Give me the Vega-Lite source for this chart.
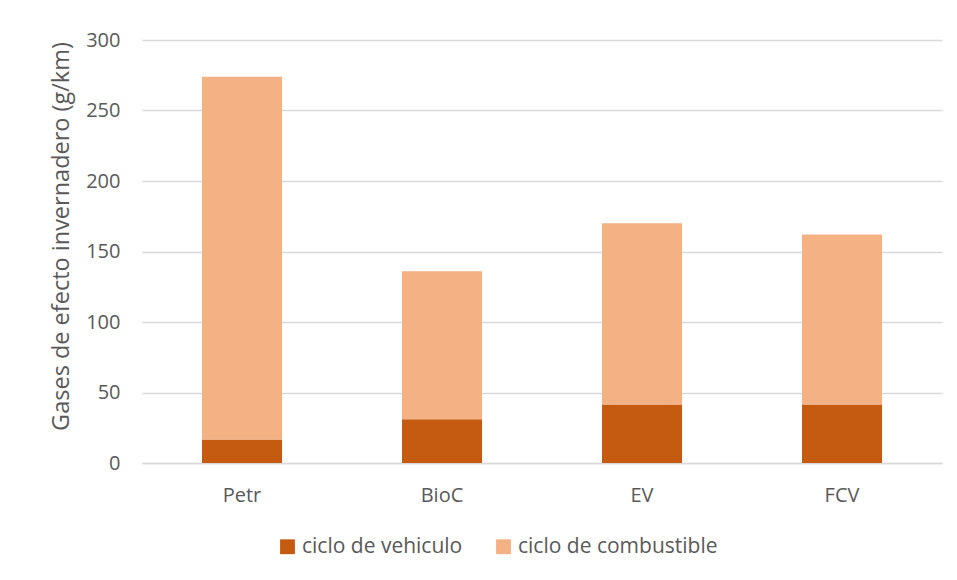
{
  "$schema": "https://vega.github.io/schema/vega-lite/v6.json",
  "width": 800,
  "height": 423,
  "autosize": {"type": "none"},
  "padding": {"left": 142, "top": 40, "right": 15, "bottom": 117},
  "background": "white",
  "config": {
    "view": {"stroke": null},
    "font": "Open Sans",
    "axis": {"labelColor": "#595959", "titleColor": "#595959", "labelFontSize": 20, "titleFontSize": 23.5, "titleFontWeight": "normal"}
  },
  "data": {"values": [
    {"tipo": "Petr", "ciclo": "ciclo de vehiculo", "k": 1, "valor": 16.7},
    {"tipo": "Petr", "ciclo": "ciclo de combustible", "k": 2, "valor": 257.3},
    {"tipo": "BioC", "ciclo": "ciclo de vehiculo", "k": 1, "valor": 31},
    {"tipo": "BioC", "ciclo": "ciclo de combustible", "k": 2, "valor": 105},
    {"tipo": "EV", "ciclo": "ciclo de vehiculo", "k": 1, "valor": 41.5},
    {"tipo": "EV", "ciclo": "ciclo de combustible", "k": 2, "valor": 128.5},
    {"tipo": "FCV", "ciclo": "ciclo de vehiculo", "k": 1, "valor": 41.5},
    {"tipo": "FCV", "ciclo": "ciclo de combustible", "k": 2, "valor": 120.5}
  ]},
  "mark": {"type": "bar"},
  "encoding": {
    "x": {
      "field": "tipo", "type": "nominal", "sort": ["Petr", "BioC", "EV", "FCV"],
      "scale": {"paddingInner": 0.6, "paddingOuter": 0.3},
      "axis": {"title": null, "labelAngle": 0, "ticks": false, "domainColor": "#d9d9d9", "domainWidth": 1.5, "labelPadding": 22}
    },
    "y": {
      "field": "valor", "type": "quantitative", "stack": "zero",
      "scale": {"domain": [0, 300]},
      "axis": {"title": "Gases de efecto invernadero (g/km)", "values": [0, 50, 100, 150, 200, 250, 300], "domain": false, "ticks": false, "gridColor": "#d9d9d9", "gridWidth": 1.3, "labelPadding": 22, "titlePadding": 12, "titleY": 196}
    },
    "color": {
      "field": "ciclo", "type": "nominal",
      "scale": {"domain": ["ciclo de vehiculo", "ciclo de combustible"], "range": ["#C55A11", "#F4B183"]},
      "legend": {"title": null, "orient": "none", "direction": "horizontal", "legendX": 135, "legendY": 496, "symbolType": "square", "symbolSize": 220, "symbolStrokeWidth": 0, "symbolOpacity": 1, "labelFontSize": 21, "labelLimit": 0, "labelColor": "#595959", "columnPadding": 30, "labelOffset": 4}
    },
    "order": {"field": "k", "type": "quantitative"}
  }
}
